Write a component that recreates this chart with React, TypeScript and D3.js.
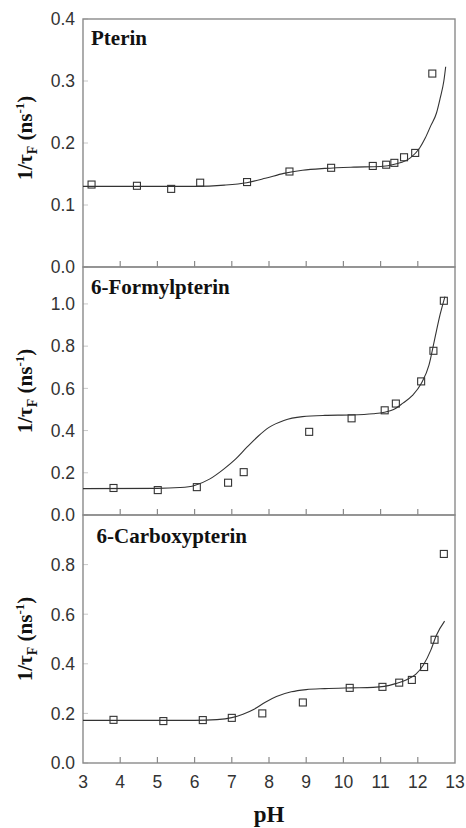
import React from "react";
import * as d3 from "d3";

// pH axis
const phTicks = [3, 4, 5, 6, 7, 8, 9, 10, 11, 12, 13];

// Pterin: measured decay rates and fitted curve
const pterinPH = [3.23, 4.45, 5.37, 6.15, 7.41, 8.55, 9.67, 10.79, 11.15, 11.37, 11.63, 11.93, 12.39];
const pterinRate = [0.133, 0.131, 0.126, 0.136, 0.137, 0.154, 0.16, 0.163, 0.165, 0.168, 0.177, 0.184, 0.312];
const pterinFitPH = [3, 6, 6.8, 7.4, 7.9, 8.4, 8.9, 9.5, 10.2, 11, 11.4, 11.8, 12.05, 12.2, 12.35, 12.5, 12.6, 12.7, 12.75];
const pterinFitRate = [0.13, 0.13, 0.132, 0.136, 0.143, 0.151, 0.156, 0.159, 0.161, 0.162, 0.166, 0.176, 0.192, 0.208, 0.228, 0.248, 0.272, 0.3, 0.323];

// 6-Formylpterin
const formylPH = [3.82, 5.01, 6.06, 6.9, 7.32, 9.08, 10.22, 11.11, 11.41, 12.09, 12.42, 12.7];
const formylRate = [0.128, 0.118, 0.132, 0.153, 0.203, 0.394, 0.458, 0.496, 0.528, 0.633, 0.778, 1.015];
const formylFitPH = [3, 5, 5.6, 6.0, 6.4, 6.8, 7.1, 7.4, 7.7, 8.0, 8.4, 8.9, 9.5, 10.2, 10.8, 11.1, 11.35, 11.6, 11.85, 12.1, 12.3, 12.45, 12.6, 12.73];
const formylFitRate = [0.125, 0.126, 0.13, 0.14, 0.17, 0.22, 0.265, 0.32, 0.372, 0.415, 0.448, 0.466, 0.472, 0.474, 0.48, 0.487, 0.5, 0.53, 0.565, 0.625, 0.71, 0.83, 0.95, 1.035];

// 6-Carboxypterin
const carboxyPH = [3.82, 5.16, 6.22, 7.0, 7.82, 8.91, 10.17, 11.05, 11.5, 11.84, 12.17, 12.45, 12.7];
const carboxyRate = [0.174, 0.169, 0.173, 0.182, 0.2, 0.244, 0.303, 0.307, 0.324, 0.335, 0.387, 0.497, 0.843];
const carboxyFitPH = [3, 6, 6.6, 7.0, 7.3, 7.6, 7.9, 8.2, 8.6, 9.0, 9.5, 10.2, 10.8, 11.1, 11.4, 11.7, 11.95, 12.15, 12.35, 12.5, 12.72];
const carboxyFitRate = [0.172, 0.172, 0.175, 0.183, 0.197, 0.217, 0.245, 0.268, 0.287, 0.296, 0.3, 0.303, 0.305, 0.309, 0.32, 0.336, 0.358, 0.395, 0.455, 0.515, 0.572];

const panelNames = ["Pterin", "6-Formylpterin", "6-Carboxypterin"];
const panelYMax = [0.4, 1.175, 1.0];
const panelYTicks = [
  [0, 0.1, 0.2, 0.3, 0.4],
  [0, 0.2, 0.4, 0.6, 0.8, 1.0],
  [0, 0.2, 0.4, 0.6, 0.8],
];

const W = 466;
const H = 828;
const left = 83;
const right = 455;
const top0 = 19;
const panelH = 248;

const serif = "'Liberation Serif', 'Times New Roman', serif";
const sans = "'Liberation Sans', Arial, sans-serif";
const axisGray = "#8a8a8a";
const markColor = "#333";

const x = d3.scaleLinear().domain([3, 13]).range([left, right]);

type PanelProps = {
  idx: number;
  ph: number[];
  rate: number[];
  fitPH: number[];
  fitRate: number[];
};

function Panel({ idx, ph, rate, fitPH, fitRate }: PanelProps) {
  const pTop = top0 + idx * panelH;
  const pBot = pTop + panelH;
  const y = d3.scaleLinear().domain([0, panelYMax[idx]]).range([pBot, pTop]);
  const line = d3
    .line<number>()
    .x((d, i) => x(fitPH[i]))
    .y((d) => y(d))
    .curve(d3.curveMonotoneX);
  const fitPath = line(fitRate) || "";
  const yTicks = panelYTicks[idx];
  const labelCenter = idx === 0 ? 138 : (pTop + pBot) / 2;
  const s = 7;
  return (
    <g>
      {/* y tick labels and faint inner ticks */}
      {yTicks.map((t) => (
        <g key={"yt" + t}>
          <line x1={left} x2={left + 5} y1={y(t)} y2={y(t)} stroke="#c8c8c8" strokeWidth={1} />
          <text x={75} y={y(t)} dy="0.36em" textAnchor="end" fontFamily={sans} fontSize={17.5} fill="#333">
            {t.toFixed(1)}
          </text>
        </g>
      ))}
      {/* inward pH ticks along the panel floor */}
      {phTicks.slice(1, -1).map((t) => (
        <line key={"xt" + t} x1={x(t)} x2={x(t)} y1={pBot} y2={pBot - 6} stroke={axisGray} strokeWidth={1.2} />
      ))}
      {/* panel frame */}
      <rect x={left} y={pTop} width={right - left} height={panelH} fill="none" stroke={axisGray} strokeWidth={1.4} />
      {/* fitted curve */}
      <path d={fitPath} fill="none" stroke={markColor} strokeWidth={1.1} />
      {/* measured points */}
      {rate.map((v, i) => (
        <rect
          key={"p" + i}
          x={x(ph[i]) - s / 2}
          y={y(v) - s / 2}
          width={s}
          height={s}
          fill="none"
          stroke={markColor}
          strokeWidth={1.1}
        />
      ))}
      {/* compound name */}
      <text
        x={idx === 2 ? 96.5 : 91}
        y={idx === 0 ? 45 : idx === 1 ? 294 : 543}
        fontFamily={serif}
        fontWeight="bold"
        fontSize={21}
        fill="#111"
      >
        {panelNames[idx]}
      </text>
      {/* y axis title */}
      <text
        transform={`translate(32, ${labelCenter}) rotate(-90)`}
        textAnchor="middle"
        fontFamily={serif}
        fontWeight="bold"
        fontSize={21}
        fill="#111"
      >
        1/τ
        <tspan fontSize={14} dy={5}>F</tspan>
        <tspan dy={-5}> (ns</tspan>
        <tspan fontSize={13} dy={-8}>-1</tspan>
        <tspan dy={8}>)</tspan>
      </text>
    </g>
  );
}

export default function App() {
  const bottom = top0 + 3 * panelH;
  return (
    <svg
      width={W}
      height={H}
      viewBox={`0 0 ${W} ${H}`}
      style={{ position: "absolute", left: 0, top: 0, background: "#fff" }}
    >
      <Panel idx={0} ph={pterinPH} rate={pterinRate} fitPH={pterinFitPH} fitRate={pterinFitRate} />
      <Panel idx={1} ph={formylPH} rate={formylRate} fitPH={formylFitPH} fitRate={formylFitRate} />
      <Panel idx={2} ph={carboxyPH} rate={carboxyRate} fitPH={carboxyFitPH} fitRate={carboxyFitRate} />
      {/* shared pH axis labels */}
      {phTicks.map((t) => (
        <text key={"xl" + t} x={x(t)} y={bottom + 25} textAnchor="middle" fontFamily={sans} fontSize={17.5} fill="#333">
          {t}
        </text>
      ))}
      <text x={x(8)} y={822} textAnchor="middle" fontFamily={serif} fontWeight="bold" fontSize={23} fill="#111">
        pH
      </text>
    </svg>
  );
}
